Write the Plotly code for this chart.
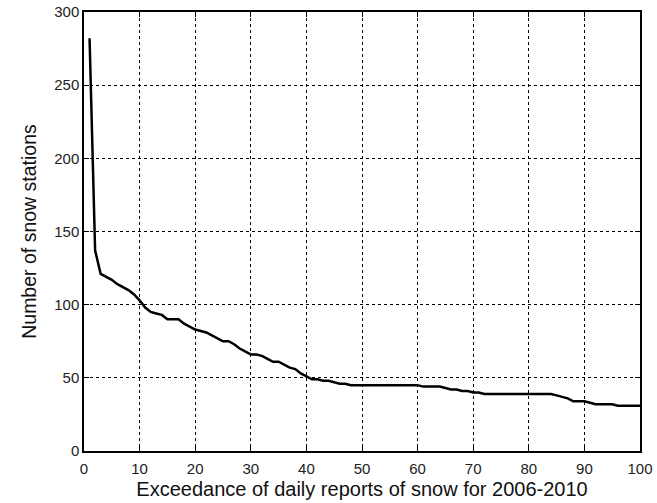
import plotly.graph_objects as go

x_vals = list(range(1, 101))
stations = [
    282, 137, 121, 119, 117, 114, 112, 110, 107, 103,
    98, 95, 94, 93, 90, 90, 90, 87, 85, 83,
    82, 81, 79, 77, 75, 75, 73, 70, 68, 66,
    66, 65, 63, 61, 61, 59, 57, 56, 53, 51,
    49, 49, 48, 48, 47, 46, 46, 45, 45, 45,
    45, 45, 45, 45, 45, 45, 45, 45, 45, 45,
    44, 44, 44, 44, 43, 42, 42, 41, 41, 40,
    40, 39, 39, 39, 39, 39, 39, 39, 39, 39,
    39, 39, 39, 39, 38, 37, 36, 34, 34, 34,
    33, 32, 32, 32, 32, 31, 31, 31, 31, 31,
]
x_ticks = list(range(0, 101, 10))
y_ticks = list(range(0, 301, 50))

FONT = "Liberation Sans, Arial"

fig = go.Figure(go.Scatter(x=x_vals, y=stations, mode="lines",
                           line=dict(color="black", width=2.5), showlegend=False))

axis_common = dict(
    showline=True, linecolor="black", linewidth=1.5, mirror="ticks",
    ticks="inside", ticklen=5, tickwidth=1, tickcolor="black",
    showgrid=True, gridcolor="black", gridwidth=1, griddash="dot",
    zeroline=False, tickfont=dict(family=FONT, size=15, color="#222222"),
)

fig.update_layout(
    width=657, height=503,
    margin=dict(l=84, r=17, t=12, b=52, autoexpand=False),
    paper_bgcolor="white", plot_bgcolor="white",
    xaxis=dict(range=[0, 100], tickvals=x_ticks, automargin=False, ticklabelstandoff=3,
               title=dict(text="Exceedance of daily reports of snow for 2006-2010",
                          font=dict(family=FONT, size=20, color="#111111"),
                          standoff=6),
               **axis_common),
    yaxis=dict(range=[0, 300], tickvals=y_ticks, automargin=False,
               title=dict(text="Number of snow stations",
                          font=dict(family=FONT, size=19.5, color="#111111"),
                          standoff=12),
               **axis_common),
)

fig.write_html("out.html")
